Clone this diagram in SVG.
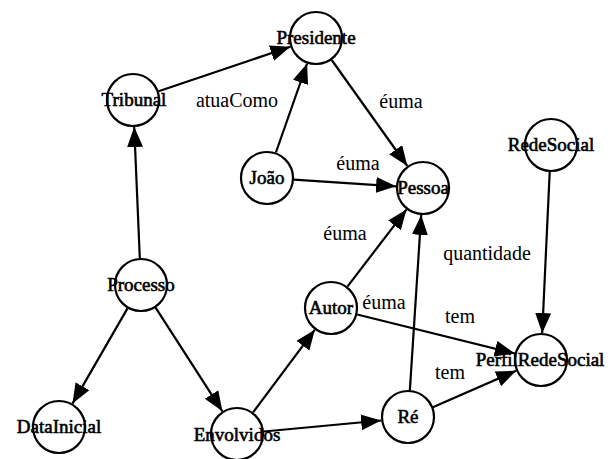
<svg xmlns="http://www.w3.org/2000/svg" width="616" height="459" viewBox="0 0 616 459">
<style>
.node circle{fill:#fff;stroke:#000;stroke-width:2.2}
.node text{font-family:"Liberation Serif",serif;font-size:19px;text-anchor:middle;fill:#000;stroke:#000;stroke-width:0.6}
.edge{stroke:#000;stroke-width:2.2;fill:none;marker-end:url(#arr)}
.lbl{font-family:"Liberation Serif",serif;font-size:20px;text-anchor:middle;fill:#000}
</style>
<defs>
<marker id="arr" markerUnits="userSpaceOnUse" markerWidth="22" markerHeight="18" refX="20" refY="8" orient="auto">
<path d="M0,0 L20,8 L0,16 z" fill="#000"/>
</marker>
</defs>
<rect width="616" height="459" fill="#fff"/>
<g id="connectors">
<line class="edge" x1="158.6" y1="91.3" x2="290.4" y2="46.7"/>
<line class="edge" x1="275.9" y1="152.5" x2="307.1" y2="63.5"/>
<line class="edge" x1="331.7" y1="60" x2="407.3" y2="166"/>
<line class="edge" x1="293.9" y1="179.7" x2="396.1" y2="186.3"/>
<line class="edge" x1="347.4" y1="286.6" x2="406.6" y2="209.4"/>
<line class="edge" x1="409.8" y1="391.1" x2="421.2" y2="214.9"/>
<line class="edge" x1="549.7" y1="172" x2="542.2" y2="333"/>
<line class="edge" x1="357.2" y1="314.5" x2="514.8" y2="353.5"/>
<line class="edge" x1="432.8" y1="407.2" x2="516.2" y2="370.8"/>
<line class="edge" x1="139.8" y1="258" x2="134.2" y2="127"/>
<line class="edge" x1="127.5" y1="308.4" x2="72.5" y2="403.6"/>
<line class="edge" x1="155.6" y1="307.7" x2="222.4" y2="411.3"/>
<line class="edge" x1="253.1" y1="412.3" x2="314.9" y2="329.7"/>
<line class="edge" x1="263.9" y1="431.5" x2="381.1" y2="420.5"/>
<text class="lbl" x="237" y="107">atuaComo</text>
<text class="lbl" x="401" y="108">éuma</text>
<text class="lbl" x="358" y="170">éuma</text>
<text class="lbl" x="345" y="240">éuma</text>
<text class="lbl" x="487" y="260">quantidade</text>
<text class="lbl" x="384" y="309">éuma</text>
<text class="lbl" x="460" y="323">tem</text>
<text class="lbl" x="450" y="379">tem</text>
</g>
<g id="Presidente" class="node"><circle cx="316" cy="38" r="26"/><text x="316" y="44">Presidente</text></g>
<g id="Tribunal" class="node"><circle cx="133" cy="100" r="26"/><text x="134" y="106">Tribunal</text></g>
<g id="Joao" class="node"><circle cx="267" cy="178" r="26"/><text x="267" y="184">João</text></g>
<g id="Pessoa" class="node"><circle cx="423" cy="188" r="26"/><text x="423" y="194">Pessoa</text></g>
<g id="RedeSocial" class="node"><circle cx="551" cy="145" r="26"/><text x="551" y="151">RedeSocial</text></g>
<g id="PerfilRedeSocial" class="node"><circle cx="541" cy="360" r="26"/><text x="540" y="366">PerfilRedeSocial</text></g>
<g id="Autor" class="node"><circle cx="331" cy="308" r="26"/><text x="331" y="314">Autor</text></g>
<g id="Processo" class="node"><circle cx="141" cy="285" r="26"/><text x="141" y="291">Processo</text></g>
<g id="DataInicial" class="node"><circle cx="59" cy="427" r="26"/><text x="59" y="433">DataInicial</text></g>
<g id="Envolvidos" class="node"><circle cx="237" cy="434" r="26"/><text x="237" y="441">Envolvidos</text></g>
<g id="Re" class="node"><circle cx="408" cy="417" r="26"/><text x="408" y="423">Ré</text></g>
</svg>
